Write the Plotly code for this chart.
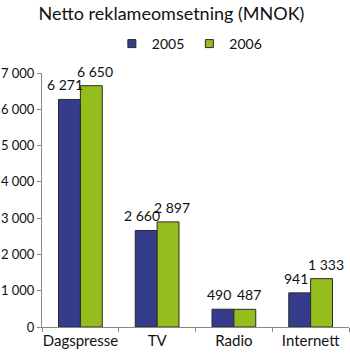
import plotly.graph_objects as go

categories = ["Dagspresse", "TV", "Radio", "Internett"]
values_2005 = [6271, 2660, 490, 941]
values_2006 = [6650, 2897, 487, 1333]
series_names = ["2005", "2006"]
y_ticks = [0, 1000, 2000, 3000, 4000, 5000, 6000, 7000]

colors = ["#363c8c", "#95bd1e"]
outline = "#2a2a2a"
font_family = "Lato, Open Sans, sans-serif"
text_color = "#111111"

fig = go.Figure()
series = [values_2005, values_2006]
for name, vals, col in zip(series_names, series, colors):
    fig.add_trace(go.Bar(
        x=categories, y=vals, name=name, showlegend=False,
        marker=dict(color=col, line=dict(color=outline, width=1)),
    ))
    # small square legend swatches
    fig.add_trace(go.Scatter(
        x=[None], y=[None], mode="markers", name=name,
        marker=dict(symbol="square", size=8, color=col,
                    line=dict(color=outline, width=1)),
    ))

# value labels, nudged outward from each bar pair so they don't collide
for k, vals in enumerate(series):
    sign = -1 if k == 0 else 1
    for cat, v in zip(categories, vals):
        fig.add_annotation(
            x=cat, y=v, xref="x", yref="y",
            text=f"{v:,}".replace(",", " "),
            showarrow=False, yanchor="bottom", xanchor="center",
            xshift=sign * 15, yshift=4,
            font=dict(size=14, color=text_color, family=font_family),
        )

fig.update_layout(
    width=350, height=356,
    margin=dict(l=42, r=1, t=73, b=29),
    paper_bgcolor="white", plot_bgcolor="white",
    separators=", ",
    barmode="group", bargap=0.43, bargroupgap=0,
    font=dict(family=font_family, size=14, color=text_color),
    title=dict(text="Netto reklameomsetning (MNOK)", x=0.49, xanchor="center",
               y=1 - 14 / 356, yanchor="middle",
               font=dict(size=18, family=font_family, color=text_color)),
    legend=dict(orientation="h", x=0.48, xanchor="center", y=1 - 44 / 356,
                yref="container", yanchor="middle",
                font=dict(size=14), itemwidth=30, tracegroupgap=0,
                itemsizing="trace"),
)
fig.update_xaxes(
    showline=True, linecolor="#888888", linewidth=1,
    ticks="outside", tickson="boundaries", ticklen=4, tickcolor="#888888",
    showgrid=False, tickangle=0, automargin=False,
    tickfont=dict(size=15),
)
fig.update_yaxes(
    range=[0, 7000], tickvals=y_ticks, tickformat=",",
    showline=True, linecolor="#888888", linewidth=1,
    ticks="outside", ticklen=4, tickcolor="#888888",
    showgrid=False, zeroline=False, automargin=False,
    tickfont=dict(size=13),
)

fig.write_html("out.html")
